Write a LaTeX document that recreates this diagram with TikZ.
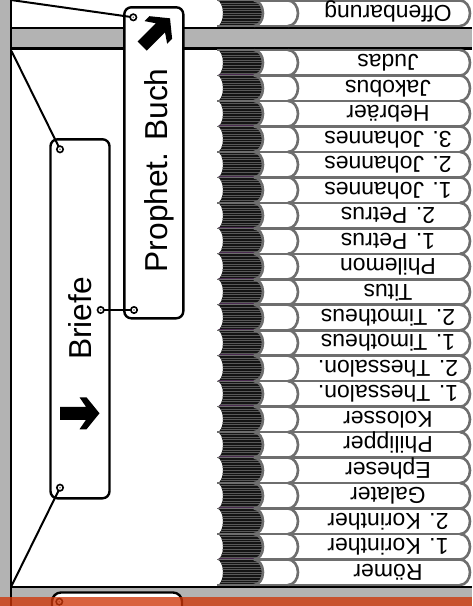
\documentclass[tikz,border=0pt]{standalone}
\usepackage{fontspec}
\setmainfont{Liberation Sans}
\definecolor{shelfgray}{HTML}{B3B3B3}
\definecolor{bookgray}{HTML}{6E6E6E}
\definecolor{spinedark}{HTML}{141414}
\definecolor{spinestripe}{HTML}{595959}
\definecolor{spinepurple}{HTML}{4A2A50}
\definecolor{signorange}{RGB}{207,55,10}
\tikzset{
  bookline/.style={draw=bookgray, line width=2.6pt},
  sepline/.style={draw=bookgray, line width=1.3pt},
  booktext/.style={anchor=base, rotate=180, inner sep=0pt, font=\fontsize{23}{27}\selectfont},
  signbox/.style={draw=black, line width=2.4pt, fill=white, rounded corners=7pt, inner sep=0pt},
  signtext/.style={anchor=base, rotate=90, inner sep=0pt, font=\fontsize{31.7}{38}\selectfont},
  hole/.style={circle, draw=black, line width=1.6pt, fill=white, minimum size=6.4pt, inner sep=0pt,
    path picture={\fill[black!60] (path picture bounding box.center) circle (0.9pt);}},
  wire/.style={draw=black, line width=2pt},
  shelfline/.style={draw=black, line width=2.2pt},
}
\newcommand\drawbook[3]{%
  \pgfmathsetmacro\bkT{#1}%
  \pgfmathsetmacro\bkB{#1+25.5}%
  \pgfmathsetmacro\bkM{#1+12.75}%
  \pgfmathsetmacro\bkU{\bkM-7.04}%
  \pgfmathsetmacro\bkV{\bkM+7.04}%
  \fill[white] (254,\bkT) -- (460,\bkT) .. controls (465.5,\bkT) and (470,\bkU) .. (470,\bkM)
     .. controls (470,\bkV) and (465.5,\bkB) .. (460,\bkB) -- (254,\bkB) -- cycle;
  \begin{scope}
    \clip (217,\bkT) .. controls (220.3,\bkT) and (223,\bkU) .. (223,\bkM)
       .. controls (223,\bkV) and (220.3,\bkB) .. (217,\bkB) -- (254,\bkB)
       .. controls (259,\bkB) and (263,\bkV) .. (263,\bkM)
       .. controls (263,\bkU) and (259,\bkT) .. (254,\bkT) -- cycle;
    \fill[spinedark] (214,\bkT) rectangle (266,\bkB);
    \foreach \k in {1,...,9} \draw[spinestripe, line width=0.7pt] (214,{\bkT+\k*2.55}) -- (266,{\bkT+\k*2.55});
    \draw[spinepurple, line width=0.7pt] (214,{\bkB-1}) -- (266,{\bkB-1});
  \end{scope}
  \draw[sepline] (217,\bkT) -- (254,\bkT) (217,\bkB) -- (254,\bkB);
  \draw[bookline] (254,\bkT) -- (460,\bkT) (254,\bkB) -- (460,\bkB);
  \draw[bookline] (254,\bkT) .. controls (259,\bkT) and (263,\bkU) .. (263,\bkM)
       .. controls (263,\bkV) and (259,\bkB) .. (254,\bkB);
  \draw[bookline] (288,\bkT) .. controls (293.5,\bkT) and (298,\bkU) .. (298,\bkM)
       .. controls (298,\bkV) and (293.5,\bkB) .. (288,\bkB);
  \draw[bookline] (460,\bkT) .. controls (465.5,\bkT) and (470,\bkU) .. (470,\bkM)
       .. controls (470,\bkV) and (465.5,\bkB) .. (460,\bkB);
  \node[booktext] (#3) at (388,{\bkM-8}) {#2};
}
\newcommand\blockarrow{%
  \fill[black] (0,0) -- (-13,-16) -- (-20,-16) -- (-13.5,-6.5) -- (-39.3,-6.5) -- (-39.3,6.5)
     -- (-13.5,6.5) -- (-20,16) -- (-13,16) -- cycle;
}
\begin{document}
\begin{tikzpicture}[x=1pt,y=-1pt]
\useasboundingbox (0,0) rectangle (472,606);
\fill[white] (0,0) rectangle (472,606);
% left wall
\fill[shelfgray] (0,0) rectangle (9.5,606);
% top shelf
\fill[shelfgray] (11,28) rectangle (472,48.4);
\draw[shelfline] (11,27.8) -- (472,27.8) (11,48.5) -- (472,48.5);
% bottom shelf
\fill[shelfgray] (11,587.6) rectangle (472,606);
\draw[shelfline] (11,586.7) -- (472,586.7);
\draw[shelfline] (10.6,0) -- (10.6,606);
% books
\drawbook{0.5}{Offenbarung}{offb}
\foreach \lab [count=\i from 0] in {Judas,Jakobus,Hebräer,3. Johannes,2. Johannes,1. Johannes,2. Petrus,1. Petrus,Philemon,Titus,2. Timotheus,1. Timotheus,2. Thessalon.,1. Thessalon.,Kolosser,Philipper,Epheser,Galater,2. Korinther,1. Korinther,Römer}{%
  \pgfmathsetmacro\tp{50+\i*25.475}%
  \drawbook{\tp}{\lab}{b\i}%
}
% signs
\node[signbox, rounded corners=9pt, minimum width=130pt, minimum height=70pt] (lowsign) at (117,627.5) {};
\node[signbox, minimum width=59pt, minimum height=359pt] (briefesign) at (80,318.8) {};
\node[signbox, minimum width=59pt, minimum height=311pt] (prophetsign) at (153.8,162.8) {};
% connectors
\coordinate (wtop) at (11,0);
\coordinate (wmid) at (11.5,51);
\coordinate (wbot) at (11,587);
\coordinate (hp) at (133.3,17.3);
\coordinate (hpb) at (134,310);
\coordinate (hbt) at (60,149.3);
\coordinate (hbr) at (100.7,310);
\coordinate (hbb) at (60,487.7);
\coordinate (hlow) at (59.3,601.7);
\draw[wire] (hp) -- (wtop);
\draw[wire] (hbt) -- (wmid);
\draw[wire] (hbb) -- (wbot);
\draw[wire] (hbr) -- (hpb);
\node[hole] (holep) at (hp) {};
\node[hole] (holepb) at (hpb) {};
\node[hole] (holebt) at (hbt) {};
\node[hole] (holebr) at (hbr) {};
\node[hole] (holebb) at (hbb) {};
\node[hole] (holelow) at (hlow) {};
% arrows
\begin{scope}[shift={(99.5,413.3)}]\blockarrow\end{scope}
\begin{scope}[shift={(170,18.3)}, rotate=45]\blockarrow\end{scope}
% texts
\node[signtext] (tprophet) at (167,170.4) {Prophet. Buch};
\node[signtext] (tbriefe) at (91,318.5) {Briefe};
% orange band
\fill[signorange, fill opacity=0.78] (0,597) rectangle (472,606);
\end{tikzpicture}
\end{document}
